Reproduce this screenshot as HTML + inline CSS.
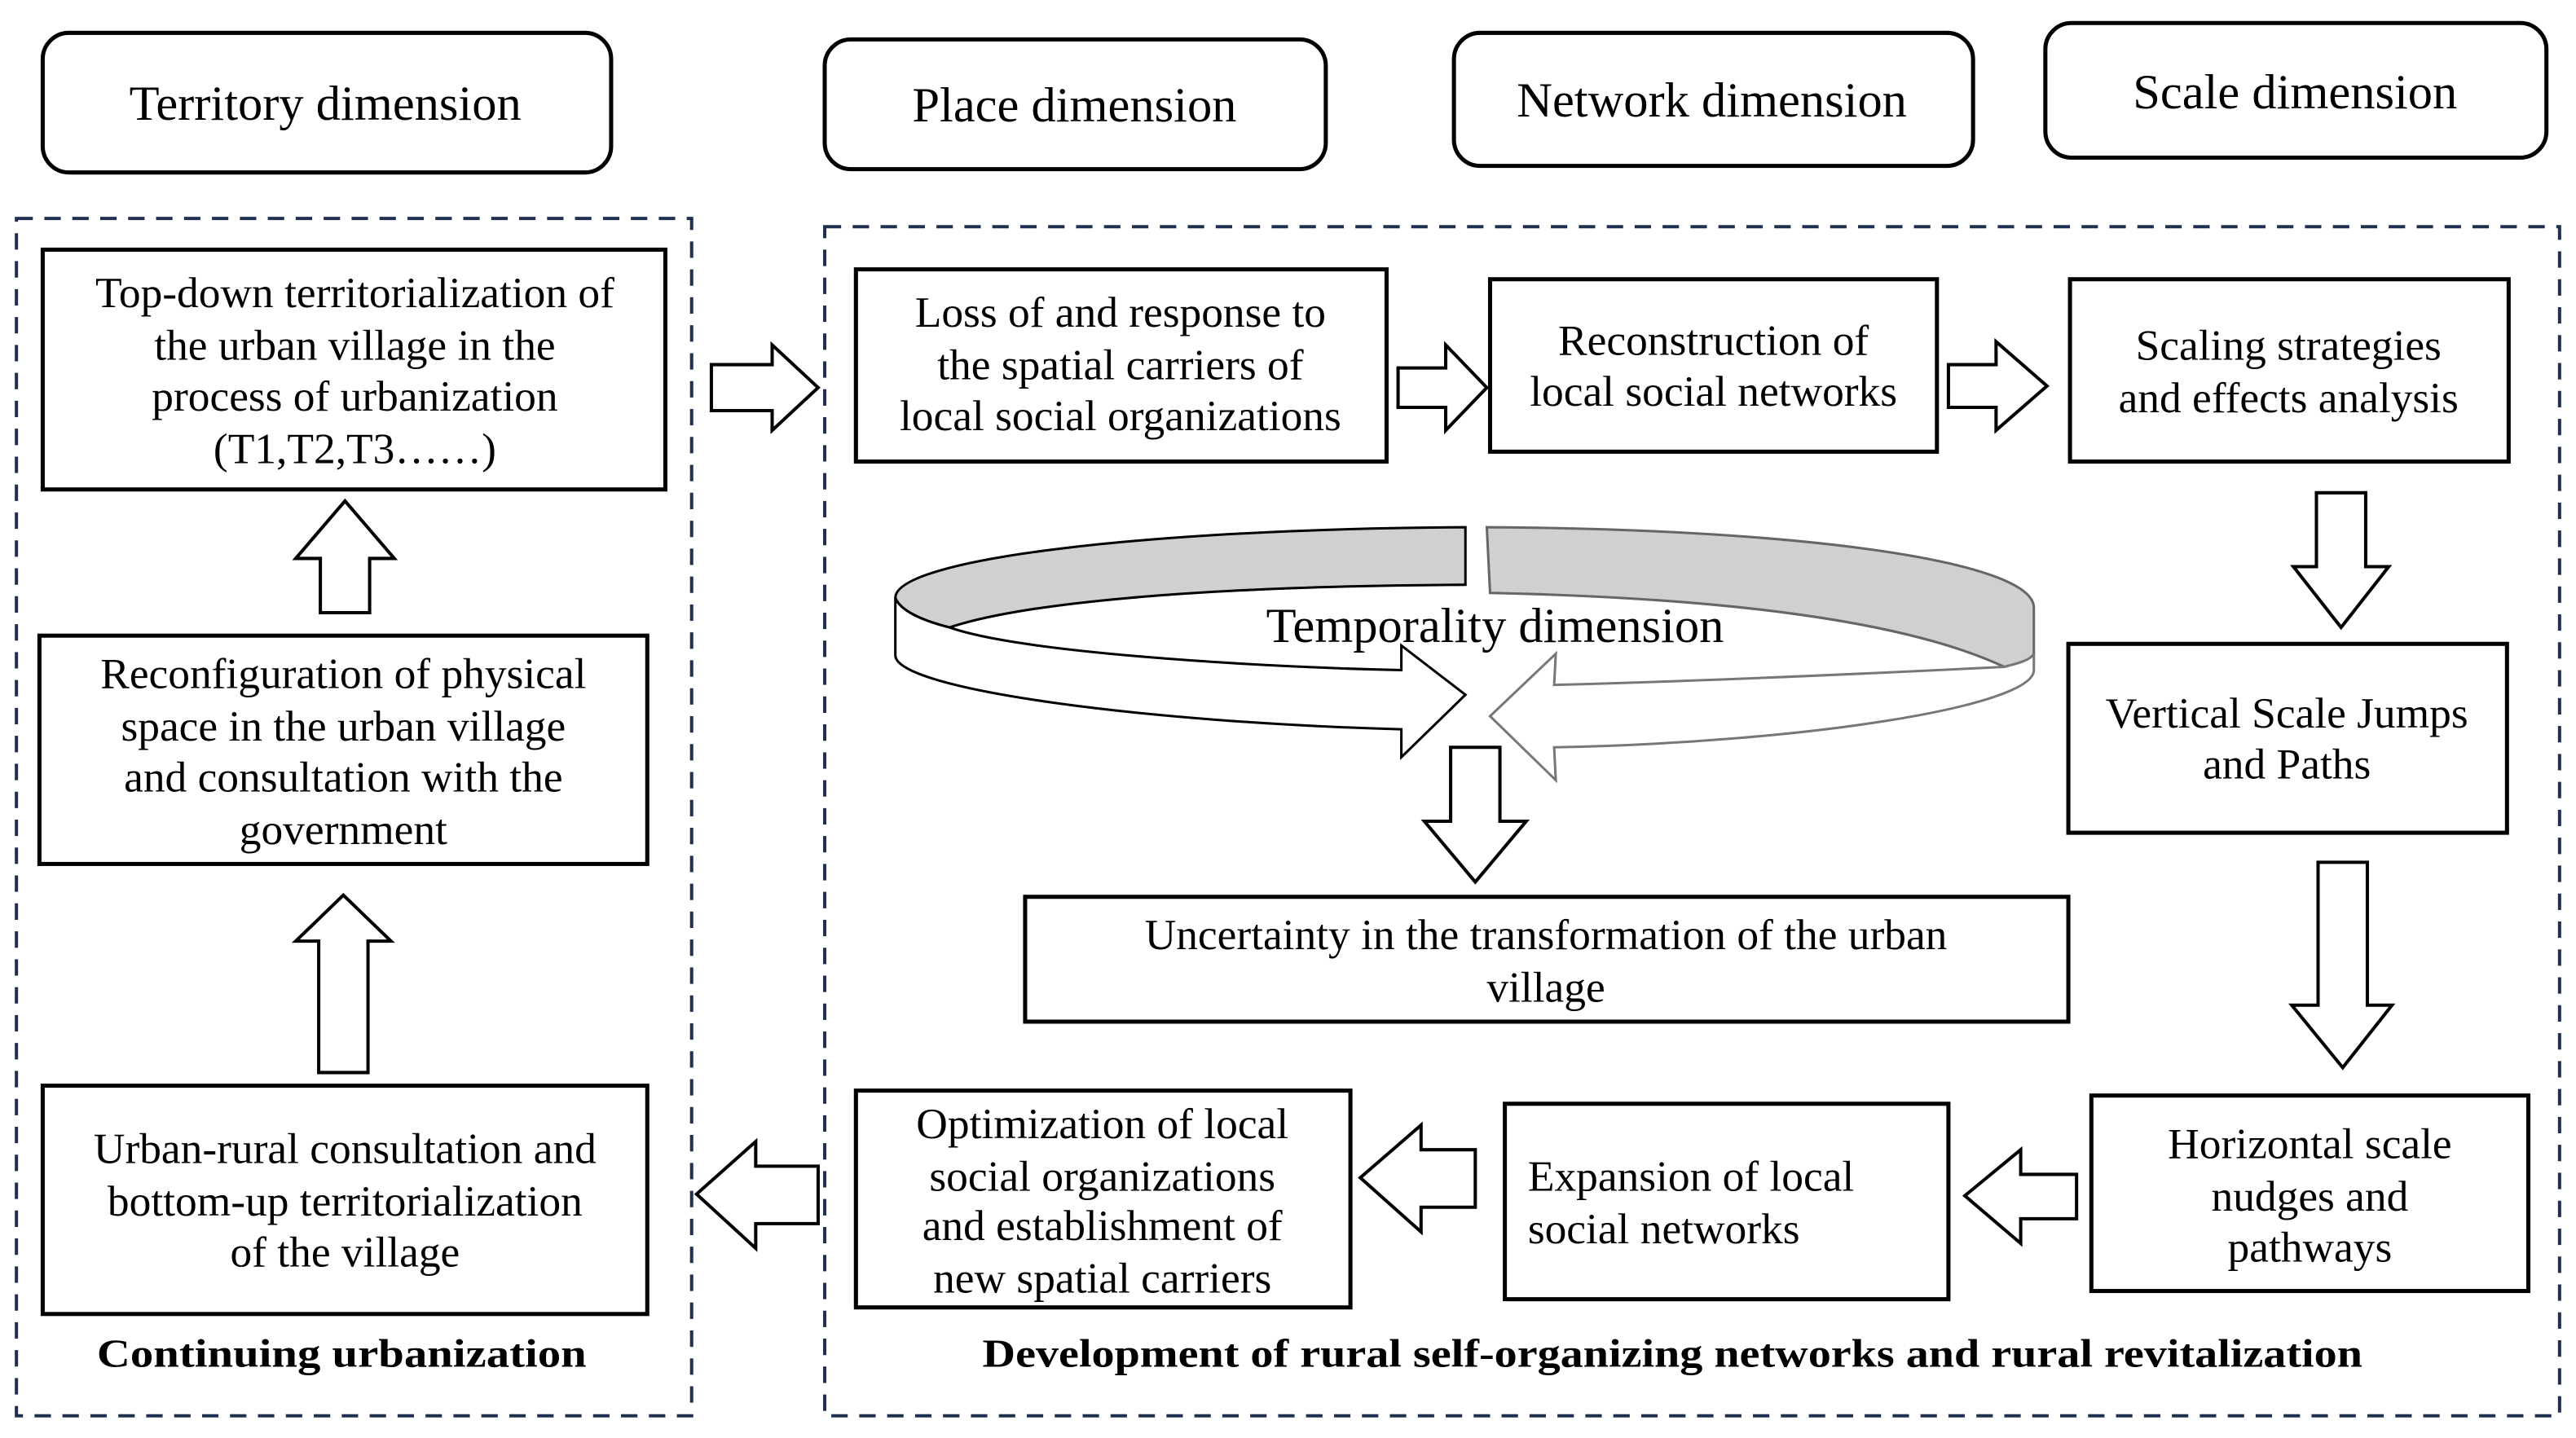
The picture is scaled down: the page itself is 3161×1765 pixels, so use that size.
<!DOCTYPE html>
<html><head><meta charset="utf-8"><style>
html,body{margin:0;padding:0;background:#fff;}
svg{display:block;}
text{font-family:"Liberation Serif",serif;fill:#000;}
</style></head><body>
<svg width="3161" height="1765" viewBox="0 0 1568 875.5" preserveAspectRatio="none" xmlns="http://www.w3.org/2000/svg">
<g fill="#fff" stroke="#000" stroke-width="2.5">
<rect x="26" y="20" width="346" height="85" rx="16"/>
<rect x="502" y="24" width="305" height="79" rx="16"/>
<rect x="885" y="20" width="316" height="81" rx="16"/>
<rect x="1245" y="14" width="305" height="82" rx="16"/>
</g>
<g fill="none" stroke="#1f3050" stroke-width="2" stroke-dasharray="10,7">
<rect x="10" y="133" width="411" height="729"/>
<rect x="502" y="138" width="1056" height="724"/>
</g>
<g fill="#fff" stroke="#000" stroke-width="2.5">
<rect x="26" y="152" width="379" height="146"/>
<rect x="24" y="387" width="370" height="139"/>
<rect x="26" y="661" width="368" height="139"/>
<rect x="521" y="164" width="323" height="117"/>
<rect x="907" y="170" width="272" height="105"/>
<rect x="1260" y="170" width="267" height="111"/>
<rect x="1259" y="392" width="267" height="115"/>
<rect x="1273" y="667" width="266" height="119"/>
<rect x="916" y="672" width="270" height="119"/>
<rect x="521" y="664" width="301" height="132"/>
<rect x="624" y="546" width="635" height="76"/>
</g>
<g fill="#fff" stroke="#000" stroke-width="2" stroke-linejoin="miter">
<polygon points="433,222 470,222 470,210 498,236 470,262 470,250 433,250"/>
<polygon points="851,224 880,224 880,210 905,236 880,262 880,248 851,248"/>
<polygon points="1186,222 1215,222 1215,208 1246,235 1215,262 1215,248 1186,248"/>
<polygon points="1410,300 1440,300 1440,345 1454,345 1425,382 1396,345 1410,345"/>
<polygon points="1411,525 1441,525 1441,612 1456,612 1426,650 1395,612 1411,612"/>
<polygon points="1264,715 1230,715 1230,700 1196,728 1230,757 1230,742 1264,742"/>
<polygon points="898,700 865,700 865,685 828,717 865,750 865,735 898,735"/>
<polygon points="498,710 460,710 460,695 424,727 460,760 460,745 498,745"/>
<polygon points="883,455 913,455 913,500 929,500 898,537 867,500 883,500"/>
<polygon points="195,373 225,373 225,340 240,340 210,305 180,340 195,340"/>
<polygon points="194,653 224,653 224,573 238,573 209,545 180,573 194,573"/>
</g>
<g stroke="#000" stroke-width="1.5">
<path d="M892,321 C700,322 545,340 545,364 C548,372 562,378 578,382 C620,368 720,357 892,356 Z" fill="#d0d0d0"/>
<path d="M545,364 C548,372 562,378 578,382 C620,397 760,406 853,408 L853,393 L892,423 L853,461 L853,444 C700,440 545,420 545,399 Z" fill="#fff"/>
<path d="M905,321 C1100,322 1238,342 1238,370 L1238,398 C1236,402 1228,404 1220,406 C1160,378 1050,364 907,361 Z" fill="#d0d0d0" stroke="#666"/>
<path d="M1220,406 C1228,404 1236,402 1238,398 L1238,408 C1238,430 1100,452 946,455 L947,475 L907,436 L947,398 L946,417 C1060,414 1180,408 1220,406 Z" fill="#fff" stroke="#777"/>
</g>
<g font-size="30" text-anchor="middle">
<text x="198" y="73">Territory dimension</text>
<text x="654" y="74">Place dimension</text>
<text x="1042" y="71">Network dimension</text>
<text x="1397" y="66">Scale dimension</text>
<text x="910" y="391">Temporality dimension</text>
</g>
<g font-size="26.5" text-anchor="middle">
<text x="216" y="187">Top-down territorialization  of</text>
<text x="216" y="219">the urban village  in the</text>
<text x="216" y="250">process of urbanization</text>
<text x="216" y="282">(T1,T2,T3……)</text>
<text x="209" y="419">Reconfiguration of physical</text>
<text x="209" y="451">space in the urban village</text>
<text x="209" y="482">and consultation  with the</text>
<text x="209" y="514">government</text>
<text x="210" y="708">Urban-rural consultation and</text>
<text x="210" y="740">bottom-up territorialization</text>
<text x="210" y="771">of the village</text>
<text x="682" y="199">Loss of and response to</text>
<text x="682" y="231">the spatial carriers of</text>
<text x="682" y="262">local social organizations</text>
<text x="1043" y="216">Reconstruction of</text>
<text x="1043" y="247">local social networks</text>
<text x="1393" y="219">Scaling strategies</text>
<text x="1393" y="251">and effects analysis</text>
<text x="1392" y="443">Vertical Scale Jumps</text>
<text x="1392" y="474">and Paths</text>
<text x="1406" y="705">Horizontal scale</text>
<text x="1406" y="737">nudges and</text>
<text x="1406" y="768">pathways</text>
<text x="671" y="693">Optimization of local</text>
<text x="671" y="725">social organizations</text>
<text x="671" y="755">and establishment of</text>
<text x="671" y="787">new spatial carriers</text>
<text x="941" y="578">Uncertainty in the transformation of the urban</text>
<text x="941" y="610">village</text>
<text x="930" y="725" text-anchor="start">Expansion of local</text>
<text x="930" y="757" text-anchor="start">social networks</text>
</g>
<g font-size="24" font-weight="bold" text-anchor="middle">
<text x="208" y="832" textLength="298" lengthAdjust="spacingAndGlyphs">Continuing urbanization</text>
<text x="1018" y="832" textLength="840" lengthAdjust="spacingAndGlyphs">Development of rural self-organizing networks and rural revitalization</text>
</g>
</svg>
</body></html>
